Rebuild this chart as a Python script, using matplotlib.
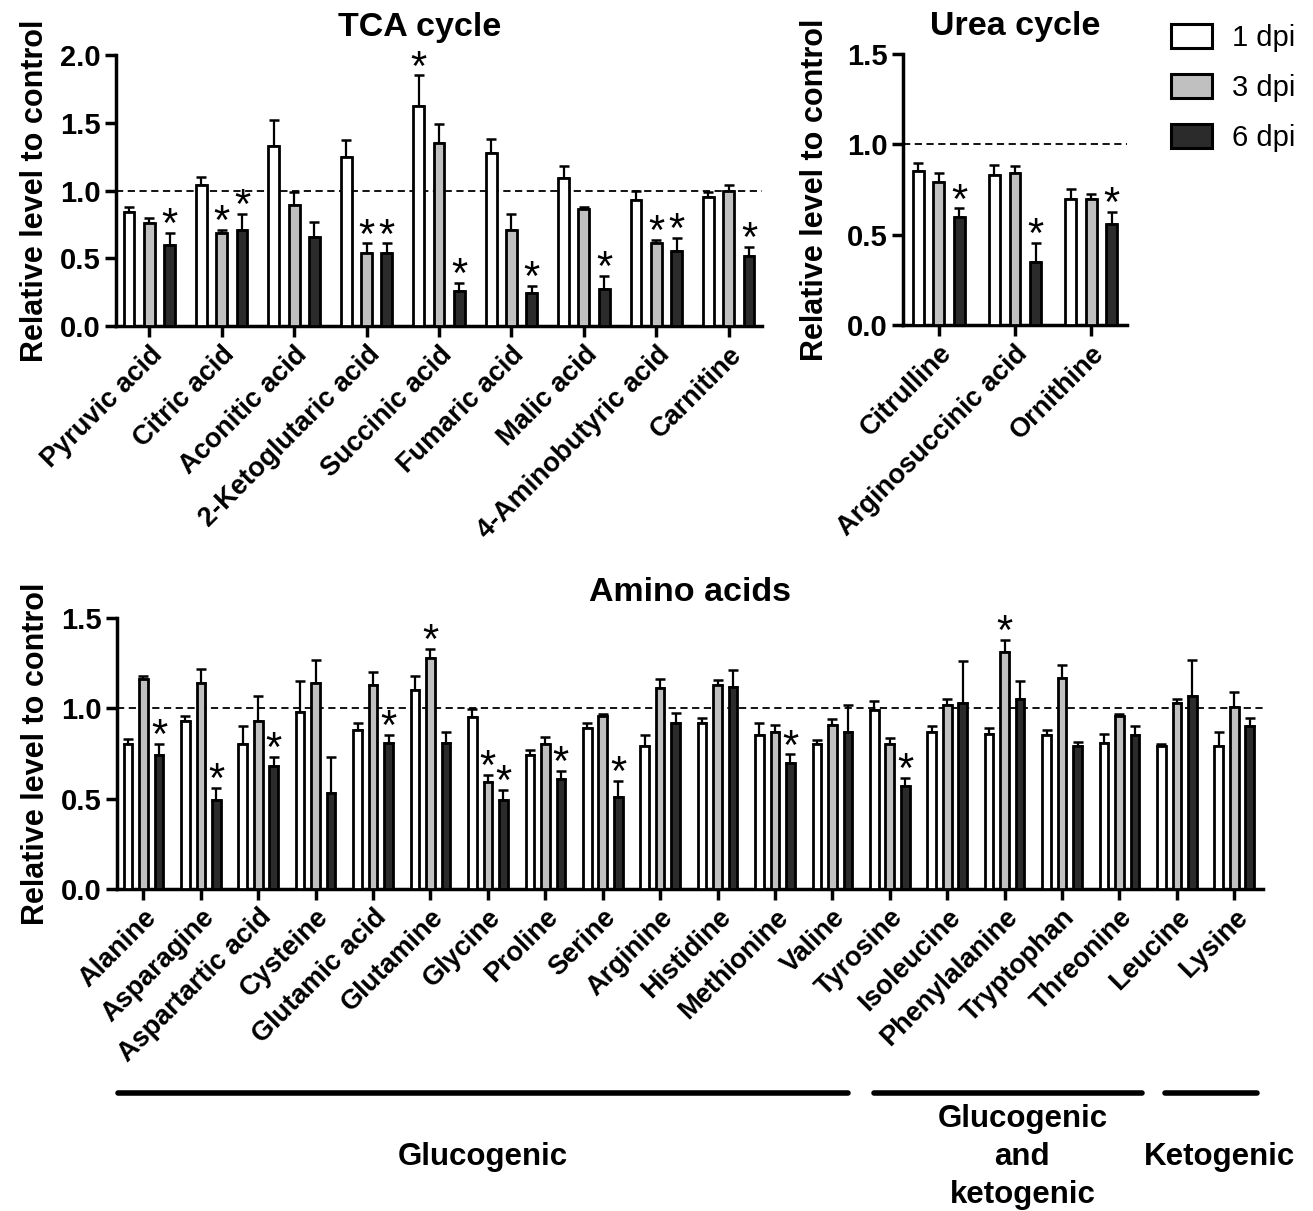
import matplotlib
matplotlib.use("Agg")
import matplotlib.pyplot as plt
import numpy as np
from matplotlib.patches import Patch
from matplotlib.lines import Line2D

plt.rcParams['font.family'] = ['Liberation Sans', 'DejaVu Sans']

# ---------------- data ----------------
series_labels = ["1 dpi", "3 dpi", "6 dpi"]
series_colors = ["#ffffff", "#c0c0c0", "#2b2b2b"]

tca_names = ["Pyruvic acid", "Citric acid", "Aconitic acid", "2-Ketoglutaric acid",
             "Succinic acid", "Fumaric acid", "Malic acid", "4-Aminobutyric acid", "Carnitine"]
tca_1 = [0.84, 1.04, 1.33, 1.25, 1.62, 1.28, 1.09, 0.93, 0.95]
tca_1_err = [0.04, 0.06, 0.19, 0.12, 0.23, 0.10, 0.09, 0.07, 0.04]
tca_3 = [0.76, 0.69, 0.89, 0.54, 1.35, 0.71, 0.86, 0.61, 1.00]
tca_3_err = [0.04, 0.02, 0.10, 0.07, 0.14, 0.12, 0.02, 0.025, 0.04]
tca_6 = [0.60, 0.71, 0.66, 0.54, 0.26, 0.24, 0.27, 0.55, 0.52]
tca_6_err = [0.09, 0.12, 0.11, 0.07, 0.06, 0.055, 0.10, 0.10, 0.065]
tca_1_sig = [0, 0, 0, 0, 1, 0, 0, 0, 0]
tca_3_sig = [0, 1, 0, 1, 0, 0, 0, 1, 0]
tca_6_sig = [1, 1, 0, 1, 1, 1, 1, 1, 1]

urea_names = ["Citrulline", "Arginosuccinic acid", "Ornithine"]
urea_1 = [0.85, 0.83, 0.70]
urea_1_err = [0.045, 0.055, 0.055]
urea_3 = [0.79, 0.84, 0.70]
urea_3_err = [0.05, 0.04, 0.025]
urea_6 = [0.60, 0.35, 0.56]
urea_6_err = [0.045, 0.105, 0.065]
urea_1_sig = [0, 0, 0]
urea_3_sig = [0, 0, 0]
urea_6_sig = [1, 1, 1]

amino_names = ["Alanine", "Asparagine", "Aspartartic acid", "Cysteine", "Glutamic acid",
               "Glutamine", "Glycine", "Proline", "Serine", "Arginine", "Histidine",
               "Methionine", "Valine", "Tyrosine", "Isoleucine", "Phenylalanine",
               "Tryptophan", "Threonine", "Leucine", "Lysine"]
amino_1 = [0.80, 0.93, 0.80, 0.98, 0.88, 1.10, 0.95, 0.74, 0.89, 0.79,
           0.92, 0.85, 0.80, 0.99, 0.87, 0.86, 0.85, 0.81, 0.79, 0.79]
amino_1_err = [0.03, 0.03, 0.10, 0.17, 0.04, 0.08, 0.045, 0.03, 0.03, 0.06,
               0.025, 0.07, 0.025, 0.05, 0.03, 0.03, 0.03, 0.05, 0.015, 0.08]
amino_3 = [1.16, 1.14, 0.93, 1.14, 1.13, 1.28, 0.59, 0.80, 0.96, 1.11,
           1.13, 0.87, 0.91, 0.80, 1.02, 1.31, 1.17, 0.96, 1.03, 1.01]
amino_3_err = [0.02, 0.08, 0.14, 0.13, 0.07, 0.05, 0.04, 0.04, 0.01, 0.05,
               0.025, 0.035, 0.03, 0.035, 0.03, 0.07, 0.07, 0.01, 0.02, 0.08]
amino_6 = [0.74, 0.49, 0.68, 0.53, 0.81, 0.81, 0.49, 0.61, 0.51, 0.92,
           1.12, 0.70, 0.87, 0.57, 1.03, 1.05, 0.79, 0.85, 1.07, 0.90]
amino_6_err = [0.065, 0.07, 0.05, 0.20, 0.045, 0.06, 0.06, 0.045, 0.09, 0.055,
               0.09, 0.045, 0.15, 0.045, 0.23, 0.10, 0.025, 0.05, 0.20, 0.045]
amino_1_sig = [0] * 20
amino_3_sig = [0, 0, 0, 0, 0, 1, 1, 0, 0, 0, 0, 0, 0, 0, 0, 1, 0, 0, 0, 0]
amino_6_sig = [1, 1, 1, 0, 1, 0, 1, 1, 1, 0, 0, 1, 0, 1, 0, 0, 0, 0, 0, 0]

group_names = ["Glucogenic", "Glucogenic\nand\nketogenic", "Ketogenic"]
group_first = [0, 13, 18]
group_last = [12, 17, 19]

# ---------------- style ----------------
LW = 2.0
TICK_FS = 21
XT_FS = 19.5
LABEL_FS = 22
TITLE_FS = 24.5
GROUP_FS = 22.5
STAR_FS = 30

fig = plt.figure(figsize=(13.13, 12.11), dpi=100)


def panel(rect, names, vals, errs, sigs, ylim, yticks, title, xpad, width, offset):
    ax = fig.add_axes(rect)
    x = np.arange(len(names))
    for k in range(3):
        xs = x + (k - 1) * offset
        ax.bar(xs, vals[k], width=width, color=series_colors[k], edgecolor="black",
               linewidth=LW, zorder=3)
        ax.errorbar(xs, vals[k], yerr=[np.zeros(len(names)), errs[k]], fmt="none",
                    ecolor="black", elinewidth=1.6, capsize=3.5, capthick=1.8, zorder=2)
        for xi, v, e, s in zip(xs, vals[k], errs[k], sigs[k]):
            if s:
                ax.annotate("*", (xi, v + e), xytext=(0, -3), textcoords="offset points",
                            ha="center", va="baseline", fontsize=STAR_FS, zorder=4)
    ax.axhline(1.0, color="black", lw=1.3, ls=(0, (4, 2.5)), zorder=1)
    ax.set_xlim(-xpad[0], len(names) - 1 + xpad[1])
    ax.set_ylim(*ylim)
    ax.set_yticks(yticks)
    ax.set_yticklabels([f"{t:.1f}" for t in yticks], fontsize=TICK_FS, fontweight="bold")
    ax.set_xticks(x)
    ax.set_xticklabels(names, rotation=45, ha="right", rotation_mode="anchor",
                       fontsize=XT_FS, fontweight="bold")
    for sp in ["top", "right"]:
        ax.spines[sp].set_visible(False)
    for sp in ["left", "bottom"]:
        ax.spines[sp].set_linewidth(2.5)
    ax.tick_params(axis="both", width=2.5, length=8, pad=3)
    ax.set_ylabel("Relative level to control", fontsize=LABEL_FS, fontweight="bold", labelpad=7)
    ax.set_title(title, fontsize=TITLE_FS, fontweight="bold", pad=14)
    return ax


W, H = 1313, 1211


def rect(x0, x1, ytop, ybot):
    return [x0 / W, (H - ybot) / H, (x1 - x0) / W, (ybot - ytop) / H]


ax1 = panel(rect(116, 762, 55, 326), tca_names, [tca_1, tca_3, tca_6],
            [tca_1_err, tca_3_err, tca_6_err], [tca_1_sig, tca_3_sig, tca_6_sig],
            (0, 2.0), [0.0, 0.5, 1.0, 1.5, 2.0], "TCA cycle", (0.46, 0.46), 0.15, 0.28)
ax1.title.set_x(0.47)

ax2 = panel(rect(903, 1127, 54, 325), urea_names, [urea_1, urea_3, urea_6],
            [urea_1_err, urea_3_err, urea_6_err], [urea_1_sig, urea_3_sig, urea_6_sig],
            (0, 1.5), [0.0, 0.5, 1.0, 1.5], "Urea cycle", (0.47, 0.47), 0.14, 0.27)
ax2.yaxis.labelpad = 12

ax3 = panel(rect(117, 1263, 618, 889), amino_names, [amino_1, amino_3, amino_6],
            [amino_1_err, amino_3_err, amino_6_err], [amino_1_sig, amino_3_sig, amino_6_sig],
            (0, 1.5), [0.0, 0.5, 1.0, 1.5], "Amino acids", (0.46, 0.5), 0.15, 0.27)
ax3.set_title("Amino acids", fontsize=TITLE_FS, fontweight="bold", pad=12)

# group brackets under amino acids
trans = ax3.get_xaxis_transform()
start_pad = [-0.45, -0.28, -0.2]
end_pad = [0.27, 0.4, 0.4]
text_shift = [0.0, 0.25, 0.15]
for name, a, b, sp, ep, ts in zip(group_names, group_first, group_last, start_pad, end_pad, text_shift):
    x0, x1 = a + sp, b + ep
    ax3.add_line(Line2D([x0, x1], [-0.753, -0.753], transform=trans, color="black",
                        lw=4, solid_capstyle="round", clip_on=False))
    ax3.text((x0 + x1) / 2 + ts, -0.99, name, transform=trans, ha="center", va="center",
             fontsize=GROUP_FS, fontweight="bold", linespacing=1.35)

# legend
handles = [Patch(facecolor=c, edgecolor="black", linewidth=2.2) for c in series_colors]
fig.legend(handles, series_labels, loc="upper left", bbox_to_anchor=(1159 / W, 1 - 12 / H),
           frameon=False, fontsize=21, handlelength=1.4, handleheight=0.9,
           labelspacing=0.75, handletextpad=0.7, borderaxespad=0)

fig.savefig("out.png", dpi=100)
